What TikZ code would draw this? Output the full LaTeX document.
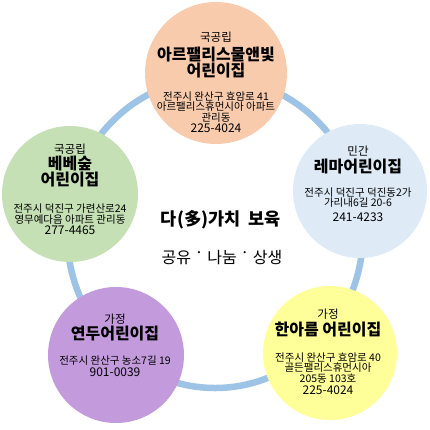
\documentclass[tikz,border=0pt]{standalone}
\usepackage{fontspec}
\setmainfont{Noto Sans CJK KR}
\usetikzlibrary{positioning}
\definecolor{ringblue}{HTML}{9DC3E6}
\definecolor{peach}{HTML}{F8CBAD}
\definecolor{skyblue}{HTML}{DEEBF7}
\definecolor{leafgreen}{HTML}{C5E0B4}
\definecolor{lilac}{HTML}{C39BDD}
\definecolor{lemon}{HTML}{FFFF99}
\tikzset{every picture/.style={line width=0.75pt}}
\newcommand{\middot}{\raisebox{.3em}{·}}

\begin{document}
\begin{tikzpicture}[x=1pt,y=-1pt,
    house/.style={circle,inner sep=0pt},
    kind/.style={font=\fontsize{11.5}{12}\selectfont},
    title/.style={font=\fontsize{16}{16}\selectfont\bfseries,align=center},
    addr/.style={font=\fontsize{10.5}{10.5}\selectfont,align=center},
    phone/.style={font=\fontsize{12}{12}\selectfont}]
    \useasboundingbox (0,0) rectangle (430,429);

    % Ring behind the circles
    \draw[ringblue,line width=6.5pt] (215,233) ellipse (148 and 155);

    % The five circles
    \node[house,fill=peach,minimum size=142pt] (top) at (216,73) {};
    \node[house,fill=skyblue,minimum size=134pt] (right) at (360,191) {};
    \node[house,fill=leafgreen,minimum size=136pt] (left) at (70,194) {};
    \node[house,fill=lilac,minimum size=136pt] (lowleft) at (116,355) {};
    \node[house,fill=lemon,minimum size=134pt] (lowright) at (330,353) {};

    % Top
    \node[kind] (topkind) at (216,37) {국공립};
    \node[title] (toptitle) at (216,63) {아르팰리스물앤빛\\어린이집};
    \node[addr] (topaddr) at (216,107) {전주시 완산구 효암로 41\\아르팰리스휴먼시아 아파트\\관리동};
    \node[phone] (topphone) at (216,128.5) {225-4024};

    % Right
    \node[kind] (rightkind) at (358,151) {민간};
    \node[title] (righttitle) at (358,167) {레마어린이집};
    \node[addr] (rightaddr) at (358,197.5) {전주시 덕진구 덕진동2가\\가리내6길 20-6};
    \node[phone] (rightphone) at (358,217.5) {241-4233};

    % Left
    \node[kind] (leftkind) at (70,149) {국공립};
    \node[title] (lefttitle) at (70,172) {베베숲\\어린이집};
    \node[addr] (leftaddr) at (70,214) {전주시 덕진구 가련산로24\\영무예다음 아파트 관리동};
    \node[phone] (leftphone) at (70,230.5) {277-4465};

    % Lower left
    \node[kind] (lowleftkind) at (115,319) {가정};
    \node[title] (lowlefttitle) at (115,334) {연두어린이집};
    \node[addr] (lowleftaddr) at (115,361) {전주시 완산구 농소7길 19};
    \node[phone] (lowleftphone) at (115,372) {901-0039};

    % Lower right
    \node[kind] (lowrightkind) at (328,314) {가정};
    \node[title] (lowrighttitle) at (328,330) {한아름 어린이집};
    \node[addr] (lowrightaddr) at (328,368) {전주시 완산구 효암로 40\\골든팰리스휴먼시아\\205동 103호};
    \node[phone] (lowrightphone) at (328,390.5) {225-4024};

    % Centre
    \node[font=\fontsize{17.5}{18}\selectfont\bfseries] (motto) at (221,220) {다(多)가치\ \ 보육};
    \node[font=\fontsize{16}{16}\selectfont] (values) at (222,257) {공유 \middot\ 나눔 \middot\ 상생};
\end{tikzpicture}
\end{document}
